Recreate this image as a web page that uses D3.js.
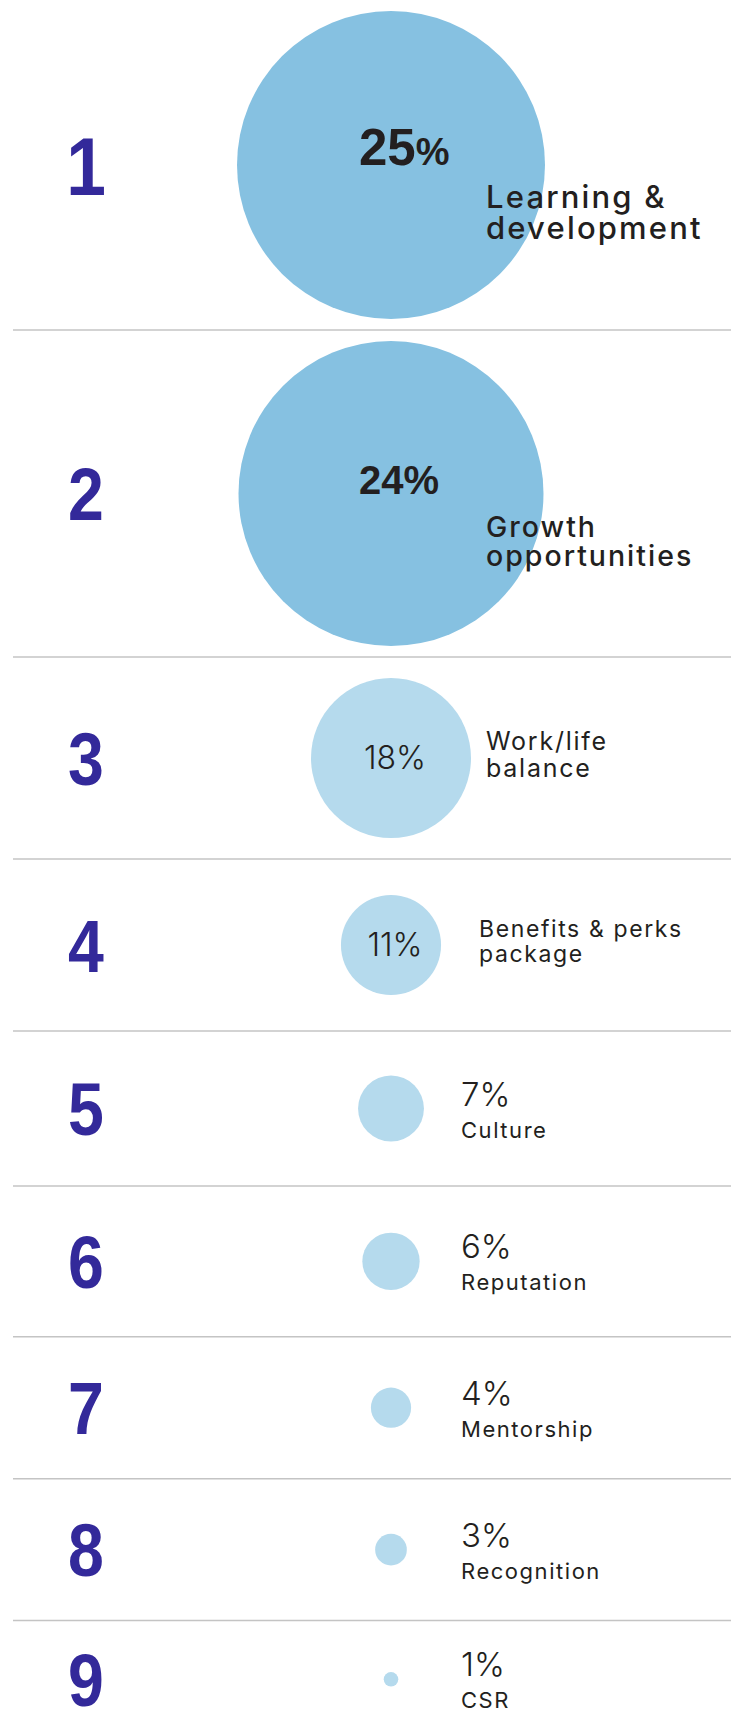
<!DOCTYPE html>
<html>
<head>
<meta charset="utf-8">
<script src="https://cdn.jsdelivr.net/npm/d3@7"></script>
<style>
  html, body { margin: 0; padding: 0; background: #fff; }
  svg { display: block; }
</style>
</head>
<body>
<div id="chart"></div>
<script>
// ---- data ----
const ranks = [1, 2, 3, 4, 5, 6, 7, 8, 9];
const categories = [
  "Learning & development",
  "Growth opportunities",
  "Work/life balance",
  "Benefits & perks package",
  "Culture",
  "Reputation",
  "Mentorship",
  "Recognition",
  "CSR"
];
const categoryLines = [
  ["Learning &", "development"],
  ["Growth", "opportunities"],
  ["Work/life", "balance"],
  ["Benefits & perks", "package"],
  ["Culture"],
  ["Reputation"],
  ["Mentorship"],
  ["Recognition"],
  ["CSR"]
];
const values = [25, 24, 18, 11, 7, 6, 4, 3, 1];

// ---- layout ----
(function () {
const W = 731, H = 1730;
const cx = 391;
const rankX = 86;
const ruleX0 = 13;

const rows = ranks.map((rank, i) => ({
  rank, value: values[i], category: categories[i], lines: categoryLines[i], i
}));

const r = d3.scaleLinear().domain([0, 18, 24, 25]).range([3, 80, 152.5, 154]);

// row heights derived from circle size
let yAcc = 0;
rows.forEach((d, i) => {
  d.r = r(d.value);
  d.h = Math.max(2 * d.r + 22, d.r + 122, 141.7);
  d.y0 = yAcc;
  // last row is trimmed at the page edge
  d.cy = i === rows.length - 1 ? yAcc + (d.h - 24) / 2 : yAcc + d.h / 2;
  yAcc += d.h;
  d.tier = d.value >= 20 ? "top" : (d.value >= 10 ? "mid" : "low");
});

const color = d3.scaleOrdinal().domain(["top", "mid", "low"]).range(["#86C1E1", "#B5DAED", "#B5DAED"]);

const svg = d3.select("#chart").append("svg")
  .attr("width", W).attr("height", H)
  .attr("viewBox", `0 0 ${W} ${H}`);

svg.append("rect").attr("width", W).attr("height", H).attr("fill", "#fff");

const ink = "#231F20";
const labelFont = "Inter, 'Open Sans', sans-serif";
const ls = "0.07em";

// dividers
svg.append("g").selectAll("line")
  .data(rows.slice(1))
  .join("line")
  .attr("x1", ruleX0).attr("x2", W)
  .attr("y1", d => d.y0).attr("y2", d => d.y0)
  .attr("stroke", "#C4C4C4").attr("stroke-width", 1.5);

const g = svg.append("g").selectAll("g.row")
  .data(rows)
  .join("g").attr("class", "row");

// rank numbers
g.append("text")
  .attr("transform", d => `translate(${rankX},${d.cy}) scale(0.87,1)`)
  .attr("dy", "0.36em")
  .attr("text-anchor", "middle")
  .attr("font-family", "'Liberation Sans', Arial, sans-serif")
  .attr("font-weight", 700)
  .attr("font-size", d => d.i === 0 ? 82 : 74)
  .attr("fill", "#33299A")
  .text(d => d.rank);

// circles
g.append("circle")
  .attr("cx", cx)
  .attr("cy", d => d.cy)
  .attr("r", d => d.r)
  .attr("fill", d => color(d.tier));

// percentages inside top circles (bold)
const topRows = g.filter(d => d.tier === "top");
const topPct = topRows.append("text")
  .attr("x", cx - 32)
  .attr("y", d => d.cy)
  .attr("font-family", "'Liberation Sans', Arial, sans-serif")
  .attr("font-weight", 700)
  .attr("fill", ink);
topPct.append("tspan")
  .attr("font-size", d => d.i === 0 ? 51 : 40)
  .text(d => d.value);
topPct.append("tspan")
  .attr("font-size", d => d.i === 0 ? 38 : 40)
  .text("%");

topRows.each(function(d) {
  const t = d3.select(this).append("text")
    .attr("font-family", labelFont)
    .attr("font-weight", 500)
    .attr("font-size", d.i === 0 ? 31 : 28.5)
    .attr("letter-spacing", ls)
    .attr("fill", ink);
  d.lines.forEach((ln, k) => {
    t.append("tspan")
      .attr("x", cx + 95)
      .attr("y", d.cy + 43 + k * (d.i === 0 ? 31 : 29))
      .text(ln);
  });
});

// mid tier: percentage inside, label right
const midRows = g.filter(d => d.tier === "mid");
midRows.append("text")
  .attr("x", cx + 4)
  .attr("y", d => d.cy + 11)
  .attr("text-anchor", "middle")
  .attr("font-family", labelFont)
  .attr("font-weight", 300)
  .attr("font-size", 32)
  .attr("fill", ink)
  .text(d => d.value + "%");

midRows.each(function(d) {
  const t = d3.select(this).append("text")
    .attr("font-family", labelFont)
    .attr("font-weight", 400)
    .attr("font-size", d.i === 2 ? 25 : 23)
    .attr("letter-spacing", ls)
    .attr("fill", ink);
  d.lines.forEach((ln, k) => {
    t.append("tspan")
      .attr("x", cx + (d.i === 2 ? 95 : 88))
      .attr("y", d.cy - 8 + k * (d.i === 2 ? 26.7 : 25.4))
      .text(ln);
  });
});

// low tier: percentage and label to the right
const lowRows = g.filter(d => d.tier === "low");
lowRows.append("text")
  .attr("x", cx + 70)
  .attr("y", d => d.cy - 3)
  .attr("font-family", labelFont)
  .attr("font-weight", 300)
  .attr("font-size", 33)
  .attr("fill", ink)
  .text(d => d.value + "%");
lowRows.append("text")
  .attr("x", cx + 70)
  .attr("y", d => d.cy + 29)
  .attr("font-family", labelFont)
  .attr("font-weight", 400)
  .attr("font-size", 22)
  .attr("letter-spacing", ls)
  .attr("fill", ink)
  .text(d => d.lines[0]);
})();
</script>
</body>
</html>
